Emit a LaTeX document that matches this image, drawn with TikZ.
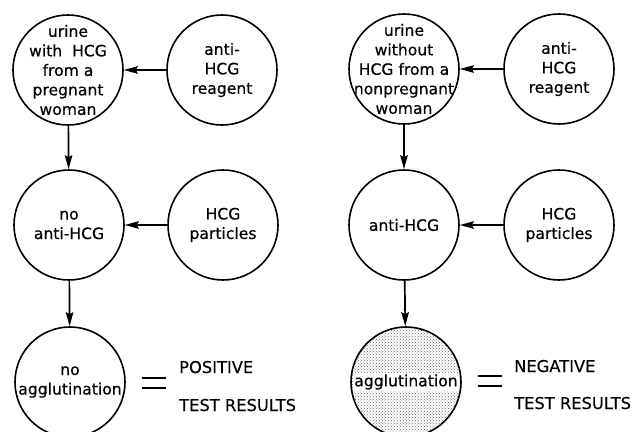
\documentclass[tikz,border=0pt]{standalone}
\usepackage{fontspec}
\setmainfont[FakeBold=0.4]{DejaVu Sans}
\usetikzlibrary{arrows.meta,patterns}
\begin{document}
\begin{tikzpicture}[x=1pt,y=1pt,
  bub/.style={circle,draw,line width=1.6pt,minimum size=110pt,inner sep=0pt},
  lbl/.style={align=center,inner sep=0pt,font=\fontsize{15.6}{19.5}\selectfont},
  arr/.style={line width=1.7pt,-{Stealth[length=14pt,width=7.5pt,inset=2pt]}},
  res/.style={anchor=base west,inner sep=0pt,font=\fontsize{16.3}{19}\selectfont},
  eq/.style={line width=1.5pt}]
\clip (0,0) rectangle (642,-431);
\useasboundingbox (0,0) rectangle (642,-431);
% left panel
\node[bub,label={[lbl]center:urine\\with~~HCG\\from a\\pregnant\\woman}] (l1) at (68,-70) {};
\node[bub,label={[lbl]center:anti-\\HCG\\reagent}] (l2) at (222,-70) {};
\node[bub,label={[lbl]center:no\\anti-HCG}] (l3) at (69,-225) {};
\node[bub,label={[lbl]center:HCG\\particles}] (l4) at (223,-225) {};
\node[bub,label={[lbl]center:no\\agglutination}] (l5) at (70,-382) {};
\draw[arr] (l2) -- (l1);
\draw[arr] (l4) -- (l3);
\draw[arr] (l1) -- (l3);
\draw[arr] (l3) -- (l5);
\coordinate (le) at (154,-383);
\draw[eq] ([xshift=-12pt,yshift=5pt]le) -- ([xshift=12pt,yshift=5pt]le);
\draw[eq] ([xshift=-12pt,yshift=-5pt]le) -- ([xshift=12pt,yshift=-5pt]le);
\node[res] (lp) at (179,-373) {POSITIVE};
\node[res] (lt) at (179,-411) {TEST RESULTS};
% right panel
\node[bub,label={[lbl]center:urine\\without\\HCG from a\\nonpregnant\\woman}] (r1) at (404,-69) {};
\node[bub,label={[lbl]center:anti-\\HCG\\reagent}] (r2) at (559,-69) {};
\node[bub,label={[lbl]center:anti-HCG}] (r3) at (404,-225) {};
\node[bub,label={[lbl]center:HCG\\particles}] (r4) at (559,-225) {};
\node[bub,fill=gray!12,pattern=crosshatch dots,pattern color=gray!80!black,
  label={[lbl,inner sep=1pt,fill=white]center:agglutination}] (r5) at (406,-382) {};
\draw[arr] (r2) -- (r1);
\draw[arr] (r4) -- (r3);
\draw[arr] (r1) -- (r3);
\draw[arr] (r3) -- (r5);
\coordinate (re) at (490,-381);
\draw[eq] ([xshift=-12pt,yshift=5pt]re) -- ([xshift=12pt,yshift=5pt]re);
\draw[eq] ([xshift=-12pt,yshift=-5pt]re) -- ([xshift=12pt,yshift=-5pt]re);
\node[res] (rn) at (514,-372) {NEGATIVE};
\node[res] (rt) at (514,-409) {TEST RESULTS};
\end{tikzpicture}
\end{document}
